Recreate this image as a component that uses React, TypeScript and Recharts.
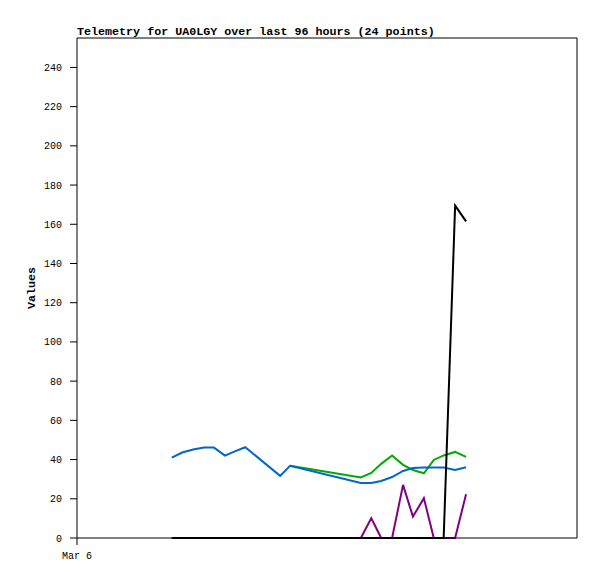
import { LineChart, Line, XAxis, YAxis, ReferenceLine } from "recharts";

// hours since Mar 6 00:00
const hours = [18.2, 20.2, 22.3, 24.4, 26.3, 28.4, 30.3, 32.3, 39.0, 40.9, 54.5, 56.5, 58.4, 60.5, 62.6, 64.5, 66.6, 68.5, 70.4, 72.6, 74.7];
const blueValues = [41.0, 43.6, 45.1, 46.1, 46.1, 42.0, 44.2, 46.3, 31.7, 36.8, 28.1, 28.1, 29.1, 31.1, 34.2, 35.7, 36.0, 36.0, 36.0, 34.7, 36.1];
const greenValues = [null, null, null, null, null, null, null, null, null, 36.8, 30.9, 33.2, 37.8, 42.1, 37.3, 34.7, 33.0, 39.8, 42.1, 43.9, 41.4];
const purpleValues = [0, 0, 0, 0, 0, 0, 0, 0, 0, 0, 0, 10.1, 0, 0, 27.1, 10.9, 20.3, 0, 0, 0, 22.3];
const blackValues = [0, 0, 0, 0, 0, 0, 0, 0, 0, 0, 0, 0, 0, 0, 0, 0, 0, 0, 0, 169.5, 161.5];

const yTicks = [0, 20, 40, 60, 80, 100, 120, 140, 160, 180, 200, 220, 240];
const xTicks = [0];
const xTickLabels = ["Mar 6"];
const X_MAX = 96;
const Y_MAX = 255;

const data = hours.map((h, i) => ({
  h,
  blue: blueValues[i],
  green: greenValues[i],
  purple: purpleValues[i],
  black: blackValues[i],
}));

const MONO = "'Liberation Mono', 'DejaVu Sans Mono', monospace";
const tickStyle = { fontFamily: MONO, fontSize: 10, fill: "#000" };

export default function App() {
  return (
    <div style={{ position: "absolute", left: 0, top: 0, width: 597, height: 579, background: "#fff" }}>
      <div
        style={{
          position: "absolute",
          left: 77,
          top: 26,
          fontFamily: MONO,
          fontSize: 11.7,
          lineHeight: "12px",
          fontWeight: "bold",
          whiteSpace: "nowrap",
          color: "#000",
        }}
      >
        Telemetry for UA0LGY over last 96 hours (24 points)
      </div>
      <LineChart width={597} height={579} data={data} margin={{ top: 38, right: 20, left: 0, bottom: 11 }}>
        <XAxis
          dataKey="h"
          type="number"
          domain={[0, X_MAX]}
          ticks={xTicks}
          tickFormatter={(v) => xTickLabels[xTicks.indexOf(v)] ?? ""}
          height={30}
          tickSize={7}
          tickMargin={7}
          tick={tickStyle}
          axisLine={{ stroke: "#000" }}
          tickLine={{ stroke: "#000" }}
        />
        <YAxis
          type="number"
          domain={[0, Y_MAX]}
          ticks={yTicks}
          width={77}
          tickSize={7}
          tickMargin={8}
          tick={tickStyle}
          axisLine={{ stroke: "#000" }}
          tickLine={{ stroke: "#000" }}
          label={{
            content: () => (
              <text
                x={32}
                y={288}
                transform="rotate(-90 32 288)"
                textAnchor="middle"
                dominantBaseline="central"
                fontFamily={MONO}
                fontSize={11.7}
                fontWeight="bold"
                fill="#000"
              >
                Values
              </text>
            ),
          }}
        />
        <ReferenceLine y={Y_MAX} stroke="#000" strokeWidth={1} />
        <ReferenceLine x={X_MAX} stroke="#000" strokeWidth={1} />
        <Line dataKey="green" stroke="#00aa00" strokeWidth={2} dot={false} type="linear" isAnimationActive={false} />
        <Line dataKey="blue" stroke="#0066cc" strokeWidth={2} dot={false} type="linear" isAnimationActive={false} />
        <Line dataKey="purple" stroke="#800080" strokeWidth={2} dot={false} type="linear" isAnimationActive={false} />
        <Line dataKey="black" stroke="#000000" strokeWidth={2} dot={false} type="linear" isAnimationActive={false} />
      </LineChart>
    </div>
  );
}
